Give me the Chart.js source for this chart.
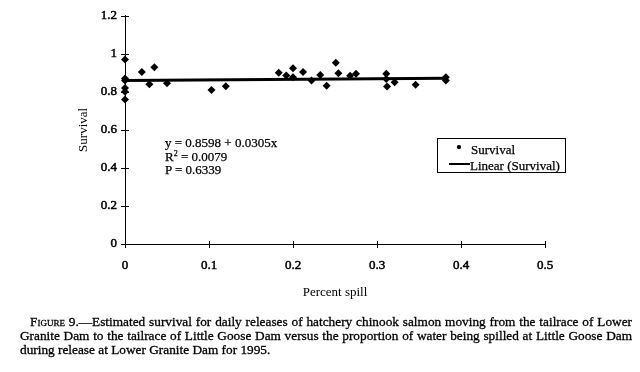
<!DOCTYPE html>
<html>
<head>
<meta charset="utf-8">
<script src="https://cdn.jsdelivr.net/npm/chart.js@4.4.1/dist/chart.umd.min.js"></script>
<style>
  html, body { margin: 0; padding: 0; background: #fff; }
  #wrap { position: relative; width: 640px; height: 372px; overflow: hidden; font-family: "Liberation Serif", "Times New Roman", serif; color: #000; }
  #c { position: absolute; left: 0; top: 0; }
  #eq { position: absolute; left: 165px; top: 136px; font-size: 13px; line-height: 13.5px; -webkit-text-stroke: 0.25px #000; }
  #eq sup { font-size: 8px; line-height: 0; vertical-align: 5px; }
  #legend { position: absolute; left: 437px; top: 138px; width: 129px; height: 35px; border: 1px solid #000; font-size: 13px; box-sizing: border-box; -webkit-text-stroke: 0.25px #000; }
  .li { position: absolute; white-space: nowrap; line-height: 14px; }
  #caption { position: absolute; left: 20px; top: 315px; width: 612px; font-size: 13.3px; line-height: 14px; -webkit-text-stroke: 0.3px #000; }
  #caption div { text-align: justify; text-align-last: justify; white-space: nowrap; }
  #caption div.last { text-align-last: left; }
  .sc { font-variant: small-caps; }
</style>
</head>
<body>
<div id="wrap">
  <canvas id="c" width="640" height="372"></canvas>
  <div id="eq">y = 0.8598 + 0.0305x<br>R<sup>2</sup> = 0.0079<br>P = 0.6339</div>
  <div id="legend">
    <div class="li" style="left:18px;top:2px;font-size:17px;line-height:14px;">&#8226;</div>
    <div class="li" style="left:33px;top:4px;">Survival</div>
    <div style="position:absolute;left:11px;top:24px;width:21px;height:2px;background:#000;"></div>
    <div class="li" style="left:32px;top:20px;">Linear (Survival)</div>
  </div>
  <div id="caption">
    <div style="padding-left:10px;"><span class="sc">Figure</span> 9.—Estimated survival for daily releases of hatchery chinook salmon moving from the tailrace of Lower</div>
    <div>Granite Dam to the tailrace of Little Goose Dam versus the proportion of water being spilled at Little Goose Dam</div>
    <div class="last">during release at Lower Granite Dam for 1995.</div>
  </div>
</div>
<script>
// Data
const spillX = [0, 0, 0, 0, 0, 0,
  0.02, 0.029, 0.035, 0.05,
  0.103, 0.12,
  0.183, 0.192, 0.20, 0.20, 0.212, 0.222, 0.2325, 0.24, 0.251, 0.254, 0.268, 0.275,
  0.311, 0.311, 0.312, 0.321, 0.346, 0.382, 0.382];
const survivalY = [0.97, 0.87, 0.86, 0.82, 0.80, 0.76,
  0.905, 0.84, 0.93, 0.845,
  0.81, 0.83,
  0.90, 0.886, 0.924, 0.877, 0.905, 0.86, 0.889, 0.832, 0.953, 0.898, 0.885, 0.895,
  0.895, 0.868, 0.828, 0.85, 0.837, 0.877, 0.86];
const fitIntercept = 0.8598;
const fitSlope = 0.0305;
const fitRangeX = [0, 0.383];
const xTicks = [0, 0.1, 0.2, 0.3, 0.4, 0.5];
const yTicks = [0, 0.2, 0.4, 0.6, 0.8, 1, 1.2];
const xTitle = 'Percent spill';
const yTitle = 'Survival';

const points = spillX.map((x, i) => ({ x: x, y: survivalY[i] }));
const fitLine = fitRangeX.map(x => ({ x: x, y: fitIntercept + fitSlope * x }));

const fam = '"Liberation Serif", "Times New Roman", serif';
const tickFont = { family: fam, size: 13 };
const fmt = v => String(Math.round(v * 10) / 10);

const crossTicks = {
  id: 'crossTicks',
  afterDraw(chart) {
    const ctx = chart.ctx;
    const xs = chart.scales.x, ys = chart.scales.y;
    ctx.save();
    ctx.strokeStyle = '#000';
    ctx.lineWidth = 1;
    ctx.beginPath();
    xTicks.forEach(v => {
      const px = Math.round(xs.getPixelForValue(v)) + 0.5;
      const py = ys.getPixelForValue(0);
      ctx.moveTo(px, py - 3); ctx.lineTo(px, py + 4);
    });
    yTicks.forEach(v => {
      const py = Math.round(ys.getPixelForValue(v)) + 0.5;
      const px = xs.getPixelForValue(0);
      ctx.moveTo(px - 4, py); ctx.lineTo(px + 4, py);
    });
    ctx.stroke();
    ctx.restore();
  }
};

new Chart(document.getElementById('c'), {
  type: 'scatter',
  data: {
    datasets: [
      {
        label: 'Survival',
        data: points,
        pointStyle: 'rectRot',
        pointRadius: 4,
        backgroundColor: '#000',
        borderColor: '#000',
        borderWidth: 0,
        clip: false,
        order: 2
      },
      {
        type: 'line',
        label: 'Linear (Survival)',
        data: fitLine,
        borderColor: '#000',
        borderWidth: 3,
        pointRadius: 0,
        fill: false,
        clip: false,
        order: 1
      }
    ]
  },
  options: {
    responsive: false,
    animation: false,
    layout: { padding: { left: 0, right: 95, top: 15, bottom: 0 } },
    plugins: { legend: { display: false }, tooltip: { enabled: false } },
    scales: {
      x: {
        type: 'linear',
        min: 0, max: 0.5,
        afterBuildTicks: s => { s.ticks = xTicks.map(v => ({ value: v })); },
        afterFit: s => { s.height = 128; },
        grid: { display: false, drawTicks: false },
        border: { display: true, color: '#000', width: 1 },
        ticks: { color: '#000', font: tickFont, padding: 14, maxRotation: 0, callback: fmt, textStrokeColor: '#000', textStrokeWidth: 0.5 },
        title: { display: true, text: xTitle, color: '#000', font: { family: fam, size: 13 }, padding: { top: 0, bottom: 72 } }
      },
      y: {
        type: 'linear',
        min: 0, max: 1.2,
        afterBuildTicks: s => { s.ticks = yTicks.map(v => ({ value: v })); },
        afterFit: s => { s.width = 125; },
        grid: { display: false, drawTicks: false },
        border: { display: true, color: '#000', width: 1 },
        ticks: { color: '#000', font: tickFont, padding: 8, callback: fmt, textStrokeColor: '#000', textStrokeWidth: 0.5 },
        title: { display: true, text: yTitle, color: '#000', font: { family: fam, size: 13 }, padding: { top: 76, bottom: 0 } }
      }
    }
  },
  plugins: [crossTicks]
});
</script>
</body>
</html>
